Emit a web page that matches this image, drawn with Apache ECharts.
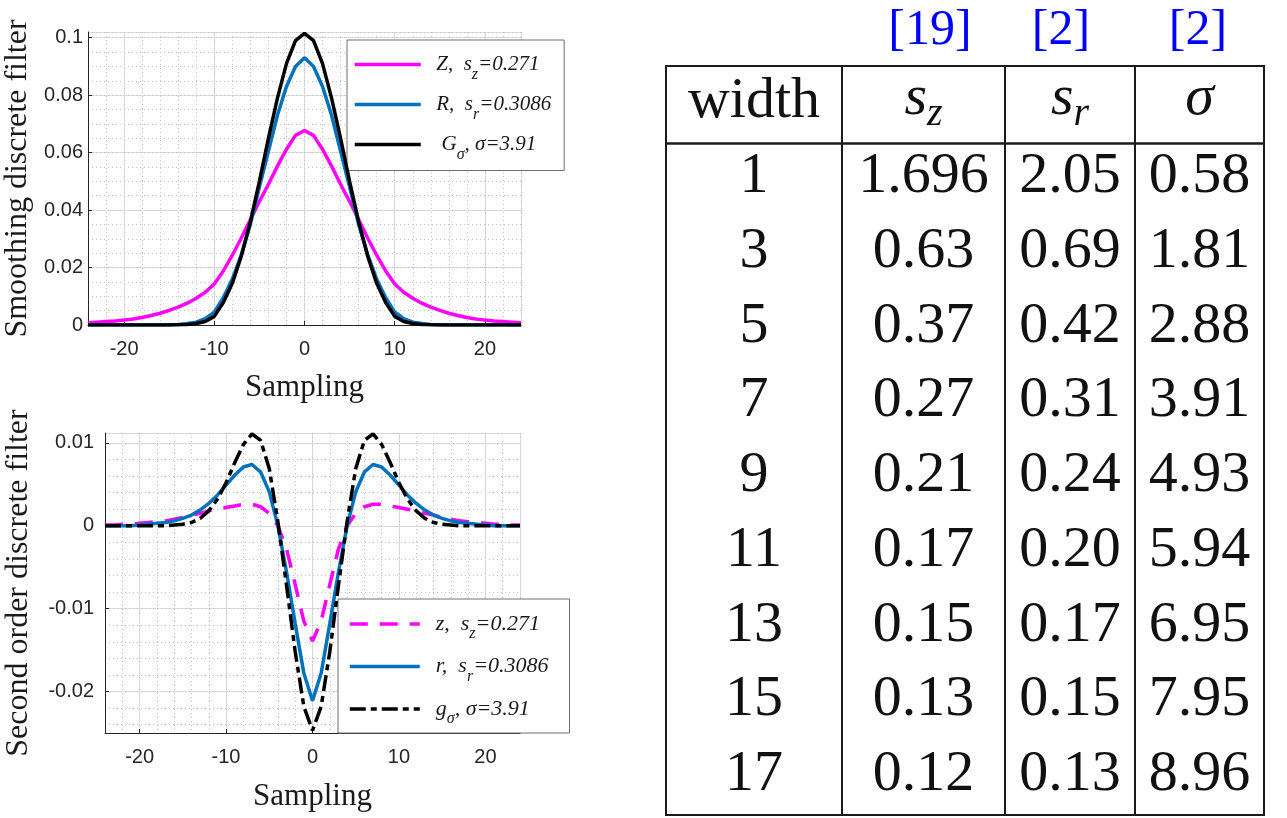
<!DOCTYPE html>
<html>
<head>
<meta charset="utf-8">
<script src="https://cdn.jsdelivr.net/npm/echarts@6/dist/echarts.min.js"></script>
<style>
html,body{margin:0;padding:0;background:#fff;}
#chart{width:1287px;height:818px;}
</style>
</head>
<body>
<div id="chart"></div>
<script>
// ---------------- data ----------------
const samples = [-24,-23,-22,-21,-20,-19,-18,-17,-16,-15,-14,-13,-12,-11,-10,-9,-8,-7,-6,-5,-4,-3,-2,-1,0,1,2,3,4,5,6,7,8,9,10,11,12,13,14,15,16,17,18,19,20,21,22,23,24];

// smoothing filters (top)
const zSmooth = [0.0008,0.0010,0.0012,0.0014,0.0017,0.0021,0.0026,0.0033,0.0041,0.0051,0.0062,0.0076,0.0093,0.0114,0.0143,0.0188,0.0243,0.0303,0.0367,0.0430,0.0490,0.0553,0.0612,0.0660,0.0677,0.0660,0.0612,0.0553,0.0490,0.0430,0.0367,0.0303,0.0243,0.0188,0.0143,0.0114,0.0093,0.0076,0.0062,0.0051,0.0041,0.0033,0.0026,0.0021,0.0017,0.0014,0.0012,0.0010,0.0008];
const rSmooth = [0,0,0,0,0,0,0,0,0,0.0001,0.0002,0.0005,0.0010,0.0022,0.0045,0.0095,0.0160,0.0245,0.0350,0.0480,0.0605,0.0730,0.0830,0.0900,0.0930,0.0900,0.0830,0.0730,0.0605,0.0480,0.0350,0.0245,0.0160,0.0095,0.0045,0.0022,0.0010,0.0005,0.0002,0.0001,0,0,0,0,0,0,0,0,0];
const gSmooth = [0,0,0,0,0,0,0,0,0,0,0.0001,0.0002,0.0005,0.0012,0.0030,0.0078,0.0145,0.0240,0.0360,0.0500,0.0650,0.0790,0.0910,0.0990,0.1015,0.0990,0.0910,0.0790,0.0650,0.0500,0.0360,0.0240,0.0145,0.0078,0.0030,0.0012,0.0005,0.0002,0.0001,0,0,0,0,0,0,0,0,0,0];

// second order filters (bottom)
const zSecond = [0.0001,0.0001,0.0002,0.0002,0.0003,0.0004,0.0005,0.0006,0.0008,0.0010,0.0013,0.0015,0.0018,0.0020,0.0022,0.0024,0.0026,0.0026,0.0023,0.0015,0.0000,-0.0028,-0.0071,-0.0115,-0.0139,-0.0115,-0.0071,-0.0028,0.0000,0.0015,0.0023,0.0026,0.0026,0.0024,0.0022,0.0020,0.0018,0.0015,0.0013,0.0010,0.0008,0.0006,0.0005,0.0004,0.0003,0.0002,0.0002,0.0001,0.0001];
const rSecond = [0,0,0,0,0.0001,0.0002,0.0003,0.0004,0.0006,0.0009,0.0013,0.0019,0.0027,0.0037,0.0049,0.0061,0.0071,0.0074,0.0065,0.0041,0.0000,-0.0056,-0.0118,-0.0178,-0.0211,-0.0178,-0.0118,-0.0056,0.0000,0.0041,0.0065,0.0074,0.0071,0.0061,0.0049,0.0037,0.0027,0.0019,0.0013,0.0009,0.0006,0.0004,0.0003,0.0002,0.0001,0,0,0,0];
const gSecond = [0,0,0,0,0,0,0,0,0.0001,0.0002,0.0004,0.0009,0.0018,0.0032,0.0052,0.0076,0.0098,0.0111,0.0103,0.0069,0.0005,-0.0072,-0.0152,-0.0218,-0.0247,-0.0218,-0.0152,-0.0072,0.0005,0.0069,0.0103,0.0111,0.0098,0.0076,0.0052,0.0032,0.0018,0.0009,0.0004,0.0002,0.0001,0,0,0,0,0,0,0,0];

// table
const tableHeader = ['width', 's_z', 's_r', 'σ'];
const tableRefs = ['[19]', '[2]', '[2]'];
const widthCol = ['1','3','5','7','9','11','13','15','17'];
const szCol = ['1.696','0.63','0.37','0.27','0.21','0.17','0.15','0.13','0.12'];
const srCol = ['2.05','0.69','0.42','0.31','0.24','0.20','0.17','0.15','0.13'];
const sigmaCol = ['0.58','1.81','2.88','3.91','4.93','5.94','6.95','7.95','8.96'];

// ---------------- styling / layout ----------------
const AX = '#262626';
const MAJ = '#dcdcdc';
const MIN = '#c4c4c4';
const SERIF = 'Liberation Serif';
const SANS = 'Liberation Sans';
const LW = 3.5;

function pairs(ys){ return samples.map((x,i)=>[x, ys[i]]); }

function majorX(grid, nameGap){
  return {
    gridIndex: grid, type:'value', min:-24, max:24, splitNumber:5,
    axisLine:{show:true, onZero:false, lineStyle:{color:AX, width:1}},
    axisTick:{show:true, inside:true, length:4, lineStyle:{color:AX}},
    axisLabel:{fontSize:20, fontFamily:SANS, color:AX, margin:14, showMinLabel:false, showMaxLabel:false},
    splitLine:{show:true, lineStyle:{color:MAJ, width:1}},
    name:'Sampling', nameLocation:'middle', nameGap:nameGap,
    nameTextStyle:{fontFamily:SERIF, fontSize:31, color:'#1a1a1a'}
  };
}
function minorAxis(grid, opts){
  return Object.assign({
    gridIndex: grid, type:'value',
    axisLine:{show:false, onZero:false}, axisTick:{show:false}, axisLabel:{show:false},
    splitLine:{show:true, lineStyle:{color:MIN, width:1, type:[1,3]}}
  }, opts);
}

const legendRich = (fs, sfs) => ({
  n:{fontFamily:SERIF, fontStyle:'italic', fontSize:fs, color:'#1a1a1a', lineHeight:22},
  s:{fontFamily:SERIF, fontStyle:'italic', fontSize:sfs, color:'#1a1a1a', padding:[20,0,0,0], verticalAlign:'top'}
});
const legendLabels = {
  'Z': '{n|  Z,  s}{s|z}{n|=0.271}',
  'R': '{n|  R,  s}{s|r}{n|=0.3086}',
  'G': '{n|   G}{s|σ}{n|, σ=3.91}',
  'z': '{n|  z,  s}{s|z}{n|=0.271}',
  'r': '{n|  r,  s}{s|r}{n|=0.3086}',
  'g': '{n|  g}{s|σ}{n|, σ=3.91}'
};

// ---------------- table graphics ----------------
const colEdges = [666, 842, 1005, 1135, 1264];
const tTop = 66, tHead = 143.5, tBottom = 815;
const rowY0 = 177, rowStep = 74.75;
const refCenters = [930, 1061, 1198];
const graphics = [];
const LINE = '#1a1a1a';
function hline(y, w){ graphics.push({type:'line', shape:{x1:colEdges[0]-1, y1:y, x2:colEdges[4]+1, y2:y}, style:{stroke:LINE, lineWidth:w}}); }
hline(tTop, 2); hline(tHead, 2.5); hline(tBottom, 2);
colEdges.forEach(x => graphics.push({type:'line', shape:{x1:x, y1:tTop-1, x2:x, y2:tBottom+1}, style:{stroke:LINE, lineWidth:2}}));
const colCenter = i => (colEdges[i] + colEdges[i+1]) / 2;
tableRefs.forEach((t,i) => graphics.push({type:'text', x:refCenters[i], y:31,
  style:{text:t, fontFamily:SERIF, fontSize:50, fill:'#0000ff', align:'center', verticalAlign:'middle'}}));
const headRich = {
  m:{fontFamily:SERIF, fontStyle:'italic', fontSize:58, lineHeight:64, verticalAlign:'top', fill:'#111'},
  sb:{fontFamily:SERIF, fontStyle:'italic', fontSize:40, lineHeight:34, verticalAlign:'bottom', fill:'#111'}
};
tableHeader.forEach((h,i) => {
  if (h === 'width') {
    graphics.push({type:'text', x:colCenter(i), y:102, style:{text:h, fontFamily:SERIF, fontSize:58, fill:'#111', align:'center', verticalAlign:'middle'}});
  } else {
    let txt;
    if (h.indexOf('_') > 0) { const p = h.split('_'); txt = '{m|' + p[0] + '}{sb|' + p[1] + '}'; }
    else txt = '{m|' + h + '}';
    graphics.push({type:'text', x:colCenter(i), y:102, style:{text:txt, rich:headRich, align:'center', verticalAlign:'middle'}});
  }
});
[widthCol, szCol, srCol, sigmaCol].forEach((col, ci) => {
  col.forEach((t, ri) => graphics.push({type:'text', x:colCenter(ci), y:rowY0 + ri*rowStep,
    style:{text:t, fontFamily:SERIF, fontSize:58, fill:'#111', align:'center', verticalAlign:'middle'}}));
});

// ---------------- chart ----------------
const chart = echarts.init(document.getElementById('chart'), null, {renderer:'canvas', width:1287, height:818});
const option = {
  animation:false,
  backgroundColor:'#fff',
  grid:[
    {left:88, top:32, width:433, height:293, containLabel:false, outerBoundsMode:'none'},
    {left:105, top:433, width:415, height:300, containLabel:false, outerBoundsMode:'none'}
  ],
  xAxis:[
    majorX(0, 47),
    minorAxis(0, {min:-24, max:24, splitNumber:24}),
    majorX(1, 48),
    minorAxis(1, {min:-24, max:24, splitNumber:24})
  ],
  yAxis:[
    {gridIndex:0, type:'value', min:0, max:0.102, interval:0.02,
     axisLine:{show:true, onZero:false, lineStyle:{color:AX, width:1}},
     axisTick:{show:true, inside:true, length:4, lineStyle:{color:AX}},
     axisLabel:{fontSize:20, fontFamily:SANS, color:AX, margin:5, showMaxLabel:false},
     splitLine:{show:true, lineStyle:{color:MAJ, width:1}},
     name:'Smoothing discrete filter', nameLocation:'middle', nameGap:54, nameRotate:90,
     nameTextStyle:{fontFamily:SERIF, fontSize:32, color:'#1a1a1a'}},
    minorAxis(0, {min:0, max:0.102, interval:0.005, position:'left'}),
    {gridIndex:1, type:'value', min:-0.025, max:0.0112, splitNumber:4,
     axisLine:{show:true, onZero:false, lineStyle:{color:AX, width:1}},
     axisTick:{show:true, inside:true, length:4, lineStyle:{color:AX}},
     axisLabel:{fontSize:20, fontFamily:SANS, color:AX, margin:11, showMinLabel:false, showMaxLabel:false},
     splitLine:{show:true, lineStyle:{color:MAJ, width:1}},
     name:'Second order discrete filter', nameLocation:'middle', nameGap:70, nameRotate:90,
     nameTextStyle:{fontFamily:SERIF, fontSize:32, color:'#1a1a1a'}},
    minorAxis(1, {min:-0.025, max:0.0112, splitNumber:18, position:'left'})
  ],
  legend:[
    {data:['Z','R','G'], orient:'vertical', left:347, top:40, itemWidth:66, itemHeight:14, itemGap:11.5,
     padding:[14,13,8,6], backgroundColor:'#fff', borderColor:'#6e6e6e', borderWidth:1, selectedMode:false,
     itemStyle:{opacity:0}, lineStyle:{width:3.5},
     formatter: n => legendLabels[n], textStyle:{rich:legendRich(21,16)}},
    {data:['z','r','g'], orient:'vertical', left:338, top:599, itemWidth:70, itemHeight:14, itemGap:13.5,
     padding:[14,21,6,10], backgroundColor:'#fff', borderColor:'#6e6e6e', borderWidth:1, selectedMode:false,
     itemStyle:{opacity:0}, lineStyle:{width:3.5},
     formatter: n => legendLabels[n], textStyle:{rich:legendRich(22,16)}}
  ],
  series:[
    {type:'line', name:'Z', xAxisIndex:0, yAxisIndex:0, data:pairs(zSmooth), symbol:'none', z:3,
     lineStyle:{color:'#ff00ff', width:LW}, itemStyle:{color:'#ff00ff'}},
    {type:'line', name:'R', xAxisIndex:0, yAxisIndex:0, data:pairs(rSmooth), symbol:'none', z:4,
     lineStyle:{color:'#0072bd', width:LW}, itemStyle:{color:'#0072bd'}},
    {type:'line', name:'G', xAxisIndex:0, yAxisIndex:0, data:pairs(gSmooth), symbol:'none', z:5,
     lineStyle:{color:'#000000', width:LW}, itemStyle:{color:'#000000'}},
    {type:'line', name:'z', xAxisIndex:2, yAxisIndex:2, data:pairs(zSecond), symbol:'none', z:3,
     lineStyle:{color:'#ff00ff', width:LW, type:[18,12]}, itemStyle:{color:'#ff00ff'}},
    {type:'line', name:'r', xAxisIndex:2, yAxisIndex:2, data:pairs(rSecond), symbol:'none', z:4,
     lineStyle:{color:'#0072bd', width:LW}, itemStyle:{color:'#0072bd'}},
    {type:'line', name:'g', xAxisIndex:2, yAxisIndex:2, data:pairs(gSecond), symbol:'none', z:5,
     lineStyle:{color:'#000000', width:LW, type:[16,5,6,5]}, itemStyle:{color:'#000000'}}
  ],
  graphic: graphics
};
chart.setOption(option);
</script>
</body>
</html>
